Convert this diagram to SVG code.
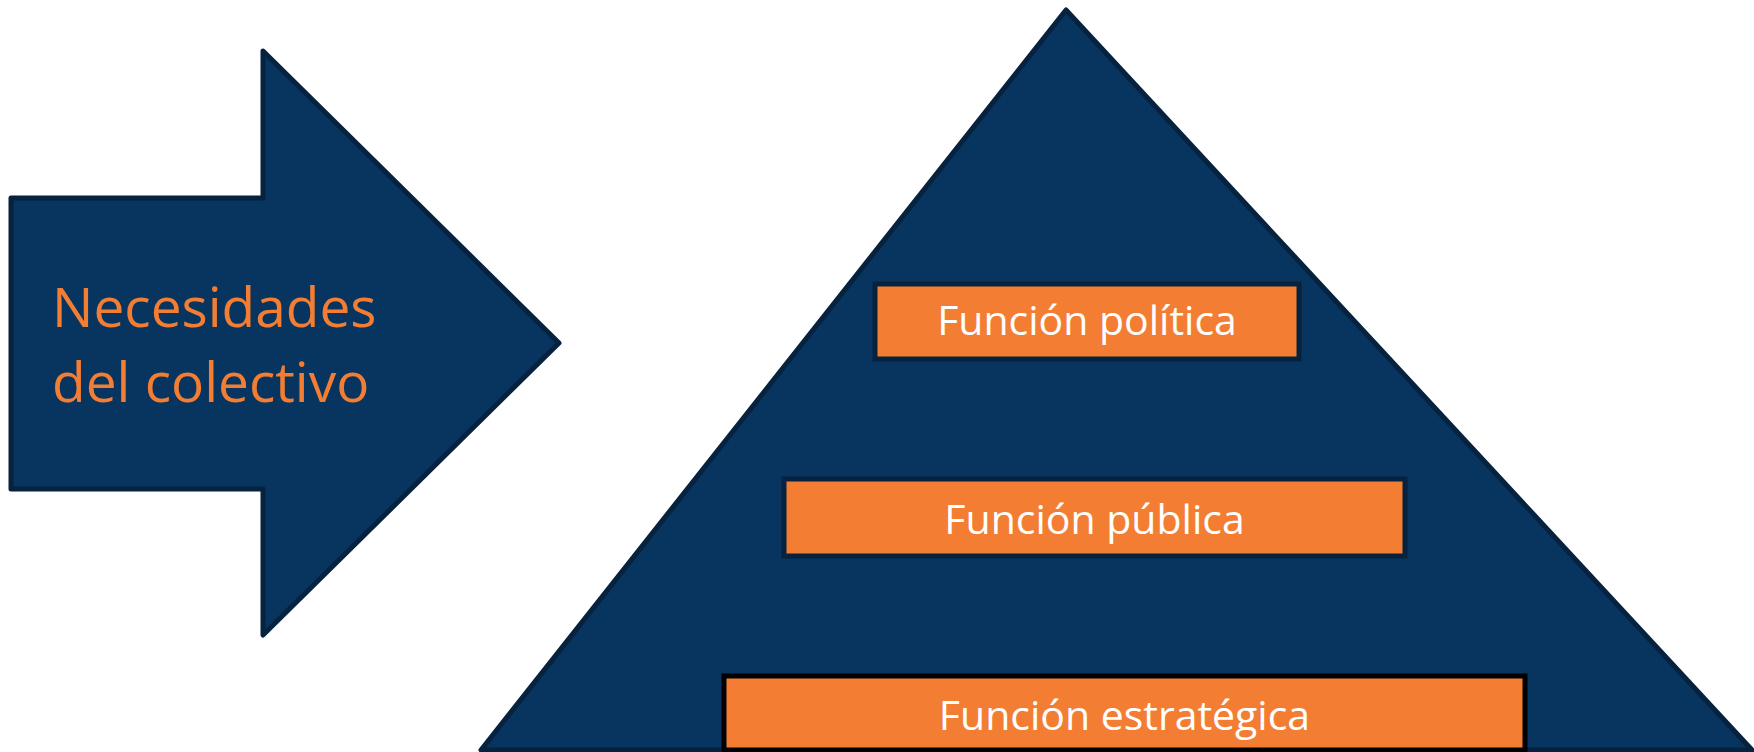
<svg xmlns="http://www.w3.org/2000/svg" width="1754" height="752" viewBox="0 0 1754 752">
<style>
.shape{fill:#08355f;stroke:#06223f;stroke-width:5;stroke-linejoin:round}
.box{fill:#f37e33;stroke:#06223f;stroke-width:5}
.box3{fill:#f37e33;stroke:#000;stroke-width:5}
.lbl{font-family:"Open Sans","Noto Sans",sans-serif;font-size:41px;fill:#ffffff;text-anchor:middle}
.arrtxt{font-family:"Open Sans","Noto Sans",sans-serif;font-size:55px;fill:#f37e33}
</style>
<rect width="1754" height="752" fill="#ffffff"/>
<g id="arrow">
<polygon class="shape" points="11,198 263,198 263,51 559,343 263,635 263,489 11,489"/>
<text class="arrtxt" x="52" y="327">Necesidades</text>
<text class="arrtxt" x="52" y="402">del colectivo</text>
</g>
<g id="pyramid">
<polygon class="shape" points="1066,10 481,750 1752,750"/>
</g>
<g id="funcion-politica">
<rect class="box" x="875" y="284" width="424" height="75"/>
<text class="lbl" x="1087" y="335">Función política</text>
</g>
<g id="funcion-publica">
<rect class="box" x="784" y="479" width="621" height="77"/>
<text class="lbl" x="1094.5" y="534">Función pública</text>
</g>
<g id="funcion-estrategica">
<rect class="box3" x="724" y="676" width="801" height="74"/>
<text class="lbl" x="1124.5" y="730">Función estratégica</text>
</g>
<g id="connectors"></g>
</svg>
